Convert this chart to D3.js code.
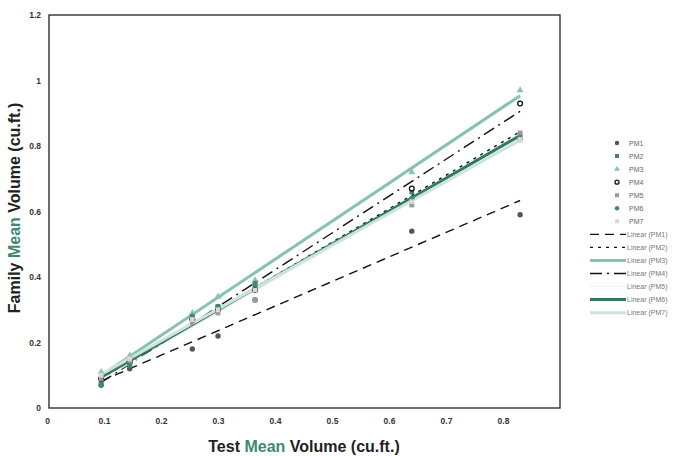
<!DOCTYPE html>
<html>
<head>
<meta charset="utf-8">
<script src="https://cdn.jsdelivr.net/npm/d3@7"></script>
<style>
  body { margin: 0; background: #fff; }
  svg { font-family: "Liberation Sans", Arial, sans-serif; }
</style>
</head>
<body>
<div id="chart"></div>
<script>
// Test mean volumes (x) shared by every family series
const testVolume = [0.095, 0.145, 0.255, 0.30, 0.365, 0.64, 0.83];

// Family mean volume per series
const pm1 = [0.07, 0.12, 0.18, 0.22, 0.33, 0.54, 0.59];
const pm2 = [0.08, 0.13, 0.27, 0.31, 0.37, 0.66, 0.83];
const pm3 = [0.11, 0.16, 0.29, 0.34, 0.39, 0.72, 0.97];
const pm4 = [0.09, 0.14, 0.27, 0.30, 0.36, 0.67, 0.93];
const pm5 = [0.09, 0.14, 0.26, 0.29, 0.33, 0.62, 0.84];
const pm6 = [0.07, 0.13, 0.28, 0.31, 0.38, 0.64, 0.82];
const pm7 = [0.10, 0.15, 0.27, 0.30, 0.36, 0.63, 0.82];

const seriesNames = ["PM1", "PM2", "PM3", "PM4", "PM5", "PM6", "PM7"];
const xTicks = [0, 0.1, 0.2, 0.3, 0.4, 0.5, 0.6, 0.7, 0.8];
const yTicks = [0, 0.2, 0.4, 0.6, 0.8, 1, 1.2];

// Styles per series (markers and trendlines)
const styles = [
  { marker: "circle", fill: "#555", stroke: "none", line: "#111", width: 1.4, dash: "9,6" },
  { marker: "square", fill: "#4d7a6b", stroke: "none", line: "#111", width: 1.4, dash: "3,5" },
  { marker: "triangle", fill: "#8cc4b0", stroke: "none", line: "#86c2ad", width: 3, dash: null },
  { marker: "open", fill: "#fff", stroke: "#111", line: "#111", width: 1.4, dash: "12,5,2,5" },
  { marker: "square", fill: "#999", stroke: "none", line: "#eeeeee", width: 1, dash: null },
  { marker: "circle", fill: "#3f8a70", stroke: "none", line: "#2e7a5e", width: 3, dash: null },
  { marker: "square", fill: "#d8d8d8", stroke: "none", line: "#cde3db", width: 3, dash: null }
];

const series = [pm1, pm2, pm3, pm4, pm5, pm6, pm7].map((vals, i) => ({
  name: seriesNames[i],
  style: styles[i],
  points: vals.map((v, j) => ({ x: testVolume[j], y: v }))
}));

// Least squares trendline like Excel's "Linear"
function linearFit(points) {
  const mx = d3.mean(points, (d) => d.x);
  const my = d3.mean(points, (d) => d.y);
  const sxy = d3.sum(points, (d) => (d.x - mx) * (d.y - my));
  const sxx = d3.sum(points, (d) => (d.x - mx) * (d.x - mx));
  const slope = sxy / sxx;
  return (x) => my + slope * (x - mx);
}

const width = 678;
const height = 456;

const svg = d3.select("#chart").append("svg")
  .attr("width", width)
  .attr("height", height);

const x = d3.scaleLinear().domain([0, 0.9]).range([47, 47 + 0.9 * 570]);
const y = d3.scaleLinear().domain([0, 1.2]).range([408, 15]);

// Plot frame
svg.append("rect")
  .attr("x", 49).attr("y", 15)
  .attr("width", x(0.9) - 49).attr("height", 408 - 15)
  .attr("fill", "none").attr("stroke", "#222").attr("stroke-width", 1.3);

// Axes (labels only, frame drawn above)
const xAxis = svg.append("g")
  .attr("transform", "translate(0,408)")
  .call(d3.axisBottom(x).tickValues(xTicks).tickSize(0).tickPadding(10)
    .tickFormat((d) => d3.format("~g")(d)));
const yAxis = svg.append("g")
  .attr("transform", "translate(49,0)")
  .call(d3.axisLeft(y).tickValues(yTicks).tickSize(0).tickPadding(8)
    .tickFormat((d) => d3.format("~g")(d)));
[xAxis, yAxis].forEach((g) => {
  g.select(".domain").remove();
  g.selectAll("text")
    .attr("font-size", 8.5)
    .attr("font-weight", "bold")
    .attr("fill", "#333");
});

// Trendlines
series.forEach((s) => {
  const f = linearFit(s.points);
  const [x0, x1] = d3.extent(s.points, (d) => d.x);
  svg.append("line")
    .attr("x1", x(x0)).attr("y1", y(f(x0)))
    .attr("x2", x(x1)).attr("y2", y(f(x1)))
    .attr("stroke", s.style.line)
    .attr("stroke-width", s.style.width)
    .attr("stroke-dasharray", s.style.dash);
});

// Markers
function drawMarker(g, type, st, cx, cy, size) {
  if (type === "circle") {
    g.append("circle").attr("cx", cx).attr("cy", cy).attr("r", size * 0.45)
      .attr("fill", st.fill);
  } else if (type === "open") {
    g.append("circle").attr("cx", cx).attr("cy", cy).attr("r", size * 0.4)
      .attr("fill", "#fff").attr("stroke", st.stroke).attr("stroke-width", 1.3);
  } else if (type === "square") {
    g.append("rect").attr("x", cx - size * 0.4).attr("y", cy - size * 0.4)
      .attr("width", size * 0.8).attr("height", size * 0.8).attr("fill", st.fill);
  } else if (type === "triangle") {
    g.append("path")
      .attr("d", d3.symbol(d3.symbolTriangle, size * size * 0.6)())
      .attr("transform", `translate(${cx},${cy})`)
      .attr("fill", st.fill);
  }
}

series.forEach((s) => {
  const g = svg.append("g");
  s.points.forEach((p) => drawMarker(g, s.style.marker, s.style, x(p.x), y(p.y), 6));
});

// Axis titles
const yTitle = svg.append("text")
  .attr("transform", "translate(20,208) rotate(-90)")
  .attr("text-anchor", "middle")
  .attr("font-size", 16)
  .attr("font-weight", "bold")
  .attr("fill", "#222");
yTitle.append("tspan").text("Family ");
yTitle.append("tspan").attr("fill", "#3d8a72").text("Mean");
yTitle.append("tspan").text(" Volume (cu.ft.)");

const xTitle = svg.append("text")
  .attr("x", 304).attr("y", 452)
  .attr("text-anchor", "middle")
  .attr("font-size", 16)
  .attr("font-weight", "bold")
  .attr("fill", "#222");
xTitle.append("tspan").text("Test ");
xTitle.append("tspan").attr("fill", "#3d8a72").text("Mean");
xTitle.append("tspan").text(" Volume (cu.ft.)");

// Legend
const legend = svg.append("g");
const rowH = 13.05;
const top0 = 143;
series.forEach((s, i) => {
  const cy = top0 + i * rowH;
  drawMarker(legend, s.style.marker, s.style, 617, cy, 5);
  legend.append("text")
    .attr("x", 629).attr("y", cy + 2.5)
    .attr("font-size", 7).attr("fill", "#666")
    .text(s.name);
});
series.forEach((s, i) => {
  const cy = top0 + (i + 7) * rowH;
  legend.append("line")
    .attr("x1", 590).attr("x2", 626)
    .attr("y1", cy).attr("y2", cy)
    .attr("stroke", s.style.line)
    .attr("stroke-width", s.style.width)
    .attr("stroke-dasharray", s.style.dash);
  legend.append("text")
    .attr("x", 627).attr("y", cy + 2.5)
    .attr("font-size", 7).attr("fill", "#777")
    .text(`Linear (${s.name})`);
});
</script>
</body>
</html>
